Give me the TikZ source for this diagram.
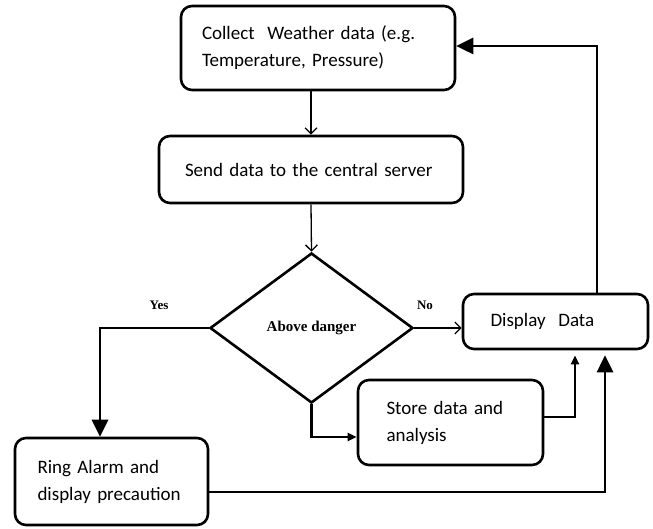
\documentclass[tikz,border=0pt]{standalone}
\usepackage{fontspec}
\setmainfont{Carlito}
\newfontfamily\lblfont{Liberation Serif}
\usetikzlibrary{arrows.meta,shapes.geometric}
\tikzset{
  box/.style={draw, line width=2.6pt, rounded corners=11pt, inner sep=0pt, align=left,
    font=\fontsize{19}{27}\selectfont},
  dia/.style={draw, line width=2.6pt, diamond, inner sep=0pt, minimum width=203pt, minimum height=150pt,
    font=\lblfont\bfseries\fontsize{15}{17}\selectfont},
  thinarrow/.style={line width=1.3pt, -{Straight Barb[length=6pt,width=12pt,line width=1.3pt]}},
  bigarrow/.style={line width=2.8pt, -{Triangle[length=17pt,width=16pt]}},
  smallarrow/.style={line width=2.8pt, -{Triangle[length=9pt,width=8pt]}},
  lbl/.style={font=\lblfont\bfseries\fontsize{13}{15}\selectfont},
}
\begin{document}
\begin{tikzpicture}[x=1pt,y=-1pt]
\useasboundingbox (0,0) rectangle (653,529);
\node[box, minimum width=274pt, minimum height=84pt, text width=232pt] (top) at (318,48)
  {Collect\ \ Weather data (e.g.\\Temperature, Pressure)};
\node[box, minimum width=304pt, minimum height=67pt, text width=252pt] (send) at (311,169.5)
  {Send data to the central server};
\node[dia] (d) at (311.5,328) {Above danger};
\node[box, minimum width=185pt, minimum height=55pt, text width=130pt] (disp) at (555.5,321.5)
  {Display\ \ Data};
\node[box, minimum width=185pt, minimum height=85pt, text width=128pt] (store) at (450.5,422.5)
  {Store data and\\analysis};
\node[box, minimum width=193pt, minimum height=87pt, text width=148pt] (ring) at (111.5,481.5)
  {Ring Alarm and\\display precaution};
\node[lbl] (yes) at (159,305) {Yes};
\node[lbl] (no) at (425,305) {No};

\draw[thinarrow] (top.south -| send.north) -- (send.north);
\draw[thinarrow] (send.south) -- (d.north);
\draw[thinarrow] (d.east) -- (d.east -| disp.west);
\draw[bigarrow] (d.west) -| ([xshift=-11.5pt]ring.north);
\draw[smallarrow] (d.south) |- ([yshift=-14.5pt]store.west);
\draw[smallarrow] ([yshift=5.5pt]store.east) -| ([xshift=19.5pt,yshift=-5pt]disp.south);
\draw[bigarrow] ([yshift=-10.5pt]ring.east) -| ([xshift=49.5pt,yshift=-5pt]disp.south);
\draw[bigarrow] ([xshift=41.5pt]disp.north) |- ([yshift=2pt]top.east);
\end{tikzpicture}
\end{document}
